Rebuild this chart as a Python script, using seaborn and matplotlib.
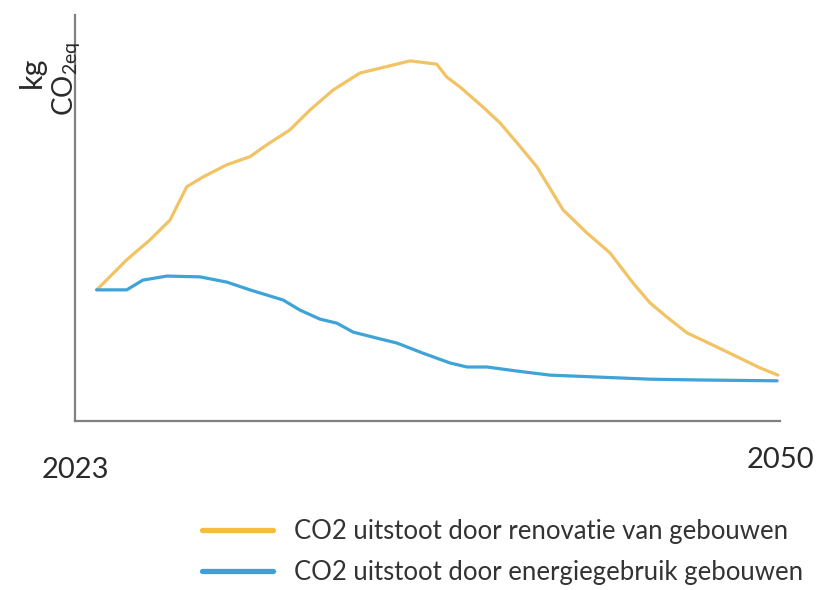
import pandas as pd
import matplotlib.pyplot as plt
import matplotlib.transforms as mtransforms
from matplotlib.lines import Line2D
import seaborn as sns

# Values (relative kg CO2eq, no scale given)
renovatie_jaar = [2023.83, 2024.98, 2025.87, 2026.64, 2027.28, 2027.90, 2028.81, 2029.70,
                  2030.34, 2031.23, 2032.00, 2032.88, 2033.91, 2034.94, 2035.83, 2036.85,
                  2037.24, 2037.74, 2038.63, 2039.28, 2039.93, 2040.69, 2041.69, 2042.61,
                  2043.49, 2044.37, 2045.02, 2045.67, 2046.44, 2047.43, 2048.20, 2049.23,
                  2049.92]
renovatie_co2 = [32.3, 39.7, 44.6, 49.5, 57.7, 60.1, 63.1, 65.1,
                 68.0, 71.7, 76.6, 81.5, 85.7, 87.3, 88.7, 87.9,
                 84.7, 82.3, 77.3, 73.4, 68.5, 62.6, 52.0, 46.3,
                 41.4, 34.0, 29.1, 25.6, 21.7, 18.7, 16.3, 13.1,
                 11.3]

energie_jaar = [2023.83, 2024.98, 2025.60, 2026.52, 2027.79, 2028.82, 2029.70, 2030.97,
                2031.62, 2032.38, 2033.03, 2033.65, 2034.57, 2035.33, 2036.33, 2037.36,
                2038.01, 2038.78, 2039.93, 2041.19, 2043.11, 2045.02, 2046.94, 2049.89]
energie_co2 = [32.3, 32.3, 34.7, 35.7, 35.5, 34.2, 32.3, 29.8,
               27.3, 25.1, 24.1, 21.9, 20.4, 19.2, 16.7, 14.3,
               13.3, 13.3, 12.3, 11.3, 10.8, 10.3, 10.1, 9.9]

labels = ["CO2 uitstoot door renovatie van gebouwen",
          "CO2 uitstoot door energiegebruik gebouwen"]
xtick_years = [2023, 2050]

ORANJE = "#F2C365"
BLAUW = "#3EA3D6"
GRIJS = "#808080"
TEKST = "#2a2a2a"

sns.set_style("white")
plt.rcParams["font.family"] = ["Lato", "DejaVu Sans"]

fig = plt.figure(figsize=(8.18, 5.9), dpi=100)
ax = fig.add_axes([75 / 818, 169 / 590, 705 / 818, 406 / 590])

renovatie = pd.DataFrame({"jaar": renovatie_jaar, "co2": renovatie_co2})
energie = pd.DataFrame({"jaar": energie_jaar, "co2": energie_co2})

sns.lineplot(data=renovatie, x="jaar", y="co2", color=ORANJE, lw=2.3, ax=ax)
sns.lineplot(data=energie, x="jaar", y="co2", color=BLAUW, lw=2.3, ax=ax)

ax.set_xlim(2023, 2050)
ax.set_ylim(0, 100)
ax.set_xlabel("")
ax.set_ylabel("")
ax.set_yticks([])
ax.set_xticks(xtick_years)
ax.set_xticklabels([str(j) for j in xtick_years], fontsize=21, color=TEKST)
ax.tick_params(axis="x", length=0, pad=26)
# 2050 sits a little higher than 2023 in the reference
lbl = ax.get_xticklabels()[1]
lbl.set_transform(lbl.get_transform() +
                  mtransforms.ScaledTranslation(0, 10 / 100, fig.dpi_scale_trans))

for side in ["top", "right"]:
    ax.spines[side].set_visible(False)
for side in ["left", "bottom"]:
    ax.spines[side].set_color(GRIJS)
    ax.spines[side].set_linewidth(1.6)

# y-axis label: kg CO2eq, stacked and rotated
fig.text(32 / 818, 1 - 72 / 590, "kg", rotation=90, ha="center", va="center",
         fontsize=22, color=TEKST)
fig.text(67 / 818, 1 - 116 / 590, r"CO$_\mathregular{2eq}$", rotation=90,
         ha="center", va="bottom", fontsize=20, color=TEKST)

handles = [Line2D([0], [0], color="#F5BE3A", lw=3.8),
           Line2D([0], [0], color="#3E9FDB", lw=3.8)]
fig.legend(handles, labels, loc="center left", bbox_to_anchor=(202 / 818, 1 - 552 / 590),
           frameon=False, fontsize=18.5, borderpad=0, borderaxespad=0,
           handlelength=2.75, handletextpad=0.85, labelspacing=0.64, labelcolor="#333333")

fig.savefig("out.png", dpi=100)
